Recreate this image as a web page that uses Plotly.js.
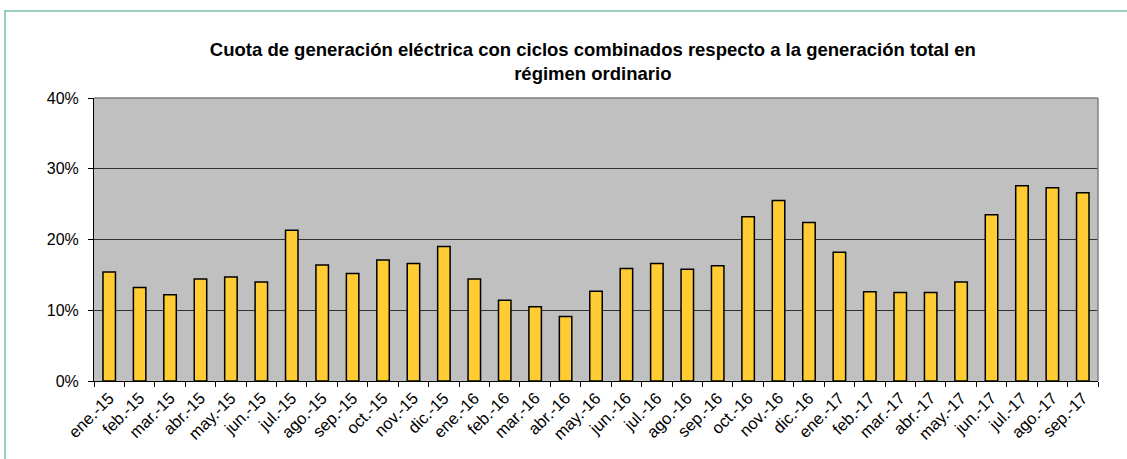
<!DOCTYPE html>
<html>
<head>
<meta charset="utf-8">
<script src="https://cdn.plot.ly/plotly-3.0.1.min.js"></script>
<style>
  body { margin: 0; background: #fff; }
  #frame { position: absolute; left: 4px; top: 10px; right: 0; bottom: 0;
           border-left: 2px solid #9ccfbe; border-top: 2px solid #9ccfbe; pointer-events: none; }
  #myPlot { width: 1127px; height: 459px; }
</style>
</head>
<body>
<div id="myPlot"></div>
<div id="frame"></div>
<script>
// months shown on the axis
var months = ["ene.-15","feb.-15","mar.-15","abr.-15","may.-15","jun.-15","jul.-15","ago.-15","sep.-15","oct.-15","nov.-15","dic.-15",
              "ene.-16","feb.-16","mar.-16","abr.-16","may.-16","jun.-16","jul.-16","ago.-16","sep.-16","oct.-16","nov.-16","dic.-16",
              "ene.-17","feb.-17","mar.-17","abr.-17","may.-17","jun.-17","jul.-17","ago.-17","sep.-17"]

// share of combined cycle (fraction)
var cuota = [0.154,0.132,0.122,0.144,0.147,0.140,0.213,0.164,0.152,0.171,0.166,0.190,
             0.144,0.114,0.105,0.091,0.127,0.159,0.166,0.158,0.163,0.232,0.255,0.224,
             0.182,0.126,0.125,0.125,0.140,0.235,0.276,0.273,0.266]

var yTicks = [0, 0.1, 0.2, 0.3, 0.4]
var yTickText = ["0%","10%","20%","30%","40%"]

var data = [
  {x: months, y: cuota, type: "bar",
   marker: {color: "#ffcc33", line: {color: "#000", width: 1.5}},
   hoverinfo: "x+y"}
]

var layout = {
  width: 1127, height: 459,
  margin: {l: 94, r: 29, t: 98, b: 78},
  paper_bgcolor: "#fff",
  plot_bgcolor: "#c0c0c0",
  bargap: 0.59,
  showlegend: false,
  font: {family: "Liberation Sans, Arial, sans-serif", size: 15, color: "#000"},
  title: {
    text: "<b>Cuota de generación eléctrica con ciclos combinados respecto a la generación total en<br>régimen ordinario</b>",
    font: {size: 18.5, color: "#000"},
    x: 0.526, xanchor: "center", y: 0.879, yanchor: "middle"
  },
  xaxis: {
    type: "category",
    tickangle: -45,
    tickson: "boundaries",
    ticks: "outside", ticklen: 5, tickcolor: "#000",
    showline: true, linecolor: "#000", linewidth: 1,
    showgrid: false,
    tickfont: {size: 16.5}
  },
  yaxis: {
    range: [0, 0.4],
    tickvals: yTicks, ticktext: yTickText,
    ticks: "outside", ticklen: 5, tickcolor: "#000",
    ticklabelstandoff: 6,
    showline: true, linecolor: "#000", linewidth: 1,
    gridcolor: "#333", gridwidth: 1,
    zeroline: false,
    tickfont: {size: 16}
  },
  shapes: [
    {type: "line", xref: "paper", yref: "paper", x0: 0, x1: 1, y0: 1, y1: 1, line: {color: "#808080", width: 1.5}},
    {type: "line", xref: "paper", yref: "paper", x0: 1, x1: 1, y0: 0, y1: 1, line: {color: "#808080", width: 1.5}}
  ]
}

Plotly.newPlot("myPlot", data, layout, {displayModeBar: false, staticPlot: true})
</script>
</body>
</html>
